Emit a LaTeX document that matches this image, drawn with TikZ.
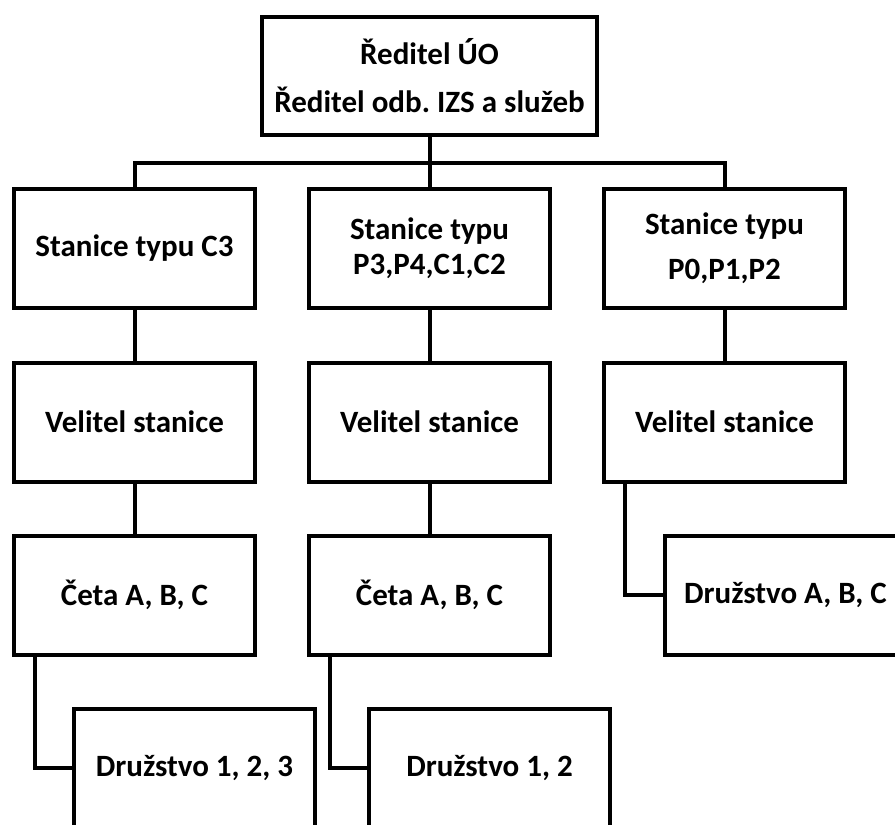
\documentclass[tikz,border=0pt]{standalone}
\usepackage{fontspec}
\setmainfont{Carlito}
\usetikzlibrary{calc}
\begin{document}
\frenchspacing
\begin{tikzpicture}[x=1pt,y=-1pt,
  box/.style={draw=black,line width=4pt,fill=white,minimum width=241pt,minimum height=119pt,
    inner sep=0pt,align=center,font=\fontsize{31}{35}\selectfont\bfseries},
  link/.style={draw=black,line width=4pt,line cap=rect}]
\useasboundingbox (0,0) rectangle (895,825);
% director
\node[box,minimum width=335pt,minimum height=118pt] (dir) at (429.5,76)
  {Ředitel ÚO\\[13pt]Ředitel odb. IZS a služeb};
% stations
\node[box] (st1) at (134.5,248.5) {Stanice typu C3};
\node[box] (st2) at (429.5,248.5) {Stanice typu\\P3,P4,C1,C2};
\node[box] (st3) at (724.5,248.5) {Stanice typu\\[10pt]P0,P1,P2};
% commanders
\node[box] (vel1) at (134.5,422) {Velitel stanice};
\node[box] (vel2) at (429.5,422) {Velitel stanice};
\node[box] (vel3) at (724.5,422) {Velitel stanice};
% platoons
\node[box] (ceta1) at (134.5,595) {Četa A, B, C};
\node[box] (ceta2) at (429.5,595) {Četa A, B, C};
% squads
\node[box] (dr1) at (194.5,768) {Družstvo 1, 2, 3};
\node[box] (dr2) at (489.5,768) {Družstvo 1, 2};
\node[box] (dr3) at (785.5,595) {Družstvo A, B, C};
% connectors (drawn behind the boxes)
\begin{scope}[on background layer/.try]
\coordinate (bar) at (429.5,163);
\draw[link] (dir.south) -- (bar);
\draw[link] (st1.north) |- (bar) -| (st3.north);
\draw[link] (bar) -- (st2.north);
\draw[link] (st1) -- (vel1) -- (ceta1);
\draw[link] (st2) -- (vel2) -- (ceta2);
\draw[link] (st3) -- (vel3);
\draw[link] ($(ceta1.south west)+(23,0)$) |- (dr1.west);
\draw[link] ($(ceta2.south west)+(23,0)$) |- (dr2.west);
\draw[link] ($(vel3.south west)+(23,0)$) |- (dr3.west);
\end{scope}
\end{tikzpicture}
\end{document}
